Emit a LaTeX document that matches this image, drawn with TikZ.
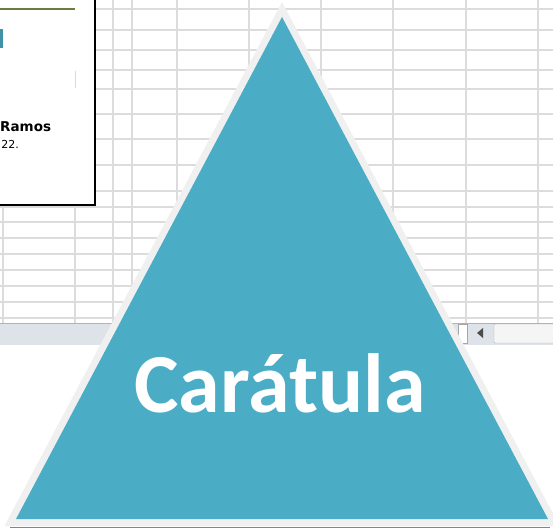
\documentclass[tikz,border=0pt]{standalone}
\usepackage{fontspec}
\newfontfamily\calibrifont{Carlito}
\newfontfamily\sheetfont{DejaVu Sans}
\definecolor{pyrteal}{HTML}{4BACC6}
\definecolor{pyredge}{HTML}{F0F0F0}
\definecolor{gridgray}{HTML}{DCDCDC}
\definecolor{barblue}{HTML}{DEE2E9}
\definecolor{headolive}{HTML}{6B7D3A}
\tikzset{gridline/.style = {draw=gridgray, line width=1.3},
  sheetbox/.style = {fill=white, draw=black, line width=2.5}}

\begin{document}
\begin{tikzpicture}[x=1pt, y=-1pt]
  \useasboundingbox (0,0) rectangle (553,529);
  \clip (0,0) rectangle (553,529);

  % spreadsheet behind
  \foreach \gx in {3,75,113,132,177,249,321,393,466,538}
    \draw [gridline] (\gx,0) -- (\gx,323);
  \foreach \gy in {9,30,50,70,89,114,139,165,191,207,222,238,254,270,286,302,318}
    \draw [gridline] (0,\gy) -- (553,\gy);

  % scroll bar
  \fill [barblue] (0,323) rectangle (553,345);
  \draw [gray!60] (0,323.5) -- (553,323.5);
  \draw [gray!70, fill=white] (458,324) rectangle (467,343);
  \fill [black!70] (477,333) -- (483,328) -- (483,338) -- cycle;
  \draw [gray!60, fill=gray!8, rounded corners=1] (494,324) rectangle (560,343);

  % cover sheet
  \draw [sheetbox] (-5,-5) rectangle (95,205);
  \draw [headolive, line width=2] (0,9) -- (75,9);
  \fill [pyrteal!85!black] (0,29) rectangle (3,48);
  \draw [gray!30, line width=1] (75,71) -- (75,88);
  \node [anchor=base west, inner sep=0, font=\sheetfont\bfseries\fontsize{13.5}{15}\selectfont] (name) at (0,132) {Ramos};
  \node [anchor=base east, inner sep=0, font=\sheetfont\fontsize{11}{13}\selectfont] (date) at (19,149) {22.};

  % triangle
  \draw [pyredge, line width=14, line join=miter] (282,17) -- (16,519) -- (548,519) -- cycle;
  \fill [pyrteal] (282,17) -- (16,519) -- (548,519) -- cycle;
  \draw [gray!70!pyrteal] (10,527) -- (550,527);
  \node [white, inner sep=0, anchor=base, font=\calibrifont\bfseries\fontsize{84}{90}\selectfont] (title) at (280,412) {Carátula};
\end{tikzpicture}
\end{document}
